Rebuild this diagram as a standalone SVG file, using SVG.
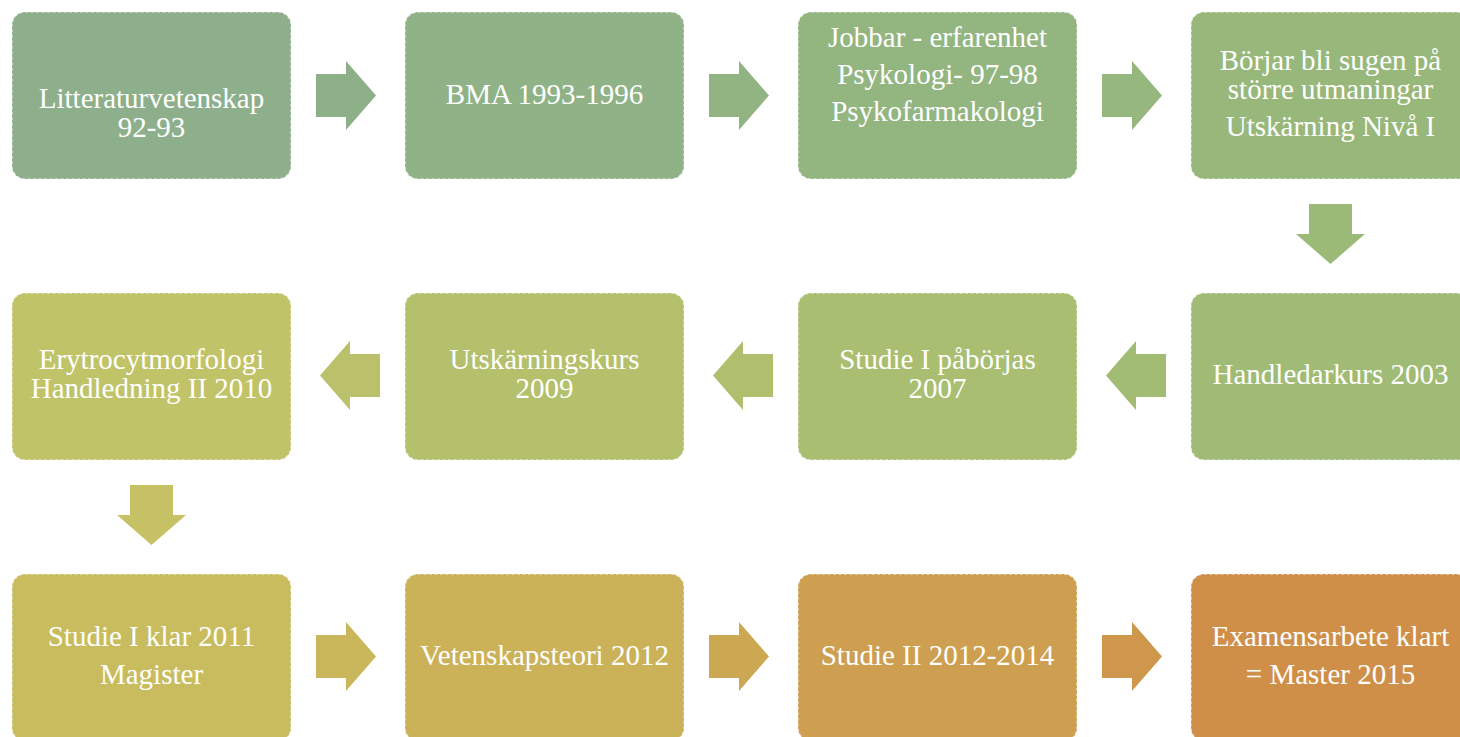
<svg xmlns="http://www.w3.org/2000/svg" width="1460" height="737" viewBox="0 0 1460 737">
<style>
.box{stroke:#ffffff;stroke-opacity:0.6;stroke-width:1.5;stroke-dasharray:3 2.5}
.t{font-family:"Liberation Serif","Times New Roman",serif;font-size:29px;fill:#ffffff;text-anchor:middle}
</style>
<defs>
<path id="ar" d="M0,-21.5 H30 V-34.5 L60,0 L30,34.5 V21.5 H0 Z"/>
</defs>
<rect width="1460" height="737" fill="#ffffff"/>
<g id="connectors">
<use href="#ar" transform="translate(316,95.5)" fill="#8EB089"/>
<use href="#ar" transform="translate(709,95.5)" fill="#92B483"/>
<use href="#ar" transform="translate(1102,95.5)" fill="#96B77D"/>
<use href="#ar" transform="translate(1330.5,204) rotate(90)" fill="#9CBA77"/>
<use href="#ar" transform="translate(1166,375.5) rotate(180)" fill="#A3BC73"/>
<use href="#ar" transform="translate(773,375.5) rotate(180)" fill="#AFBF6E"/>
<use href="#ar" transform="translate(380,375.5) rotate(180)" fill="#BBC16A"/>
<use href="#ar" transform="translate(151.5,485) rotate(90)" fill="#C5C164"/>
<use href="#ar" transform="translate(316,656.5)" fill="#CAB75C"/>
<use href="#ar" transform="translate(709,656.5)" fill="#CDA853"/>
<use href="#ar" transform="translate(1102,656.5)" fill="#CF974C"/>
</g>
<g id="n1"><rect class="box" x="12" y="12" width="279" height="167" rx="13" fill="#8DAF8C"/>
<text class="t" x="151.5" y="108">Litteraturvetenskap</text><text class="t" x="151.5" y="137">92-93</text></g>
<g id="n2"><rect class="box" x="405" y="12" width="279" height="167" rx="13" fill="#8FB286"/>
<text class="t" x="544.5" y="104">BMA 1993-1996</text></g>
<g id="n3"><rect class="box" x="798" y="12" width="279" height="167" rx="13" fill="#93B580"/>
<text class="t" x="937.5" y="47">Jobbar - erfarenhet</text><text class="t" x="937.5" y="84">Psykologi- 97-98</text><text class="t" x="937.5" y="121">Psykofarmakologi</text></g>
<g id="n4"><rect class="box" x="1191" y="12" width="279" height="167" rx="13" fill="#97B87A"/>
<text class="t" x="1330.5" y="70">Börjar bli sugen på</text><text class="t" x="1330.5" y="99">större utmaningar</text><text class="t" x="1330.5" y="136">Utskärning Nivå I</text></g>
<g id="n5"><rect class="box" x="1191" y="293" width="279" height="167" rx="13" fill="#9FBB75"/>
<text class="t" x="1330.5" y="384">Handledarkurs 2003</text></g>
<g id="n6"><rect class="box" x="798" y="293" width="279" height="167" rx="13" fill="#A9BE71"/>
<text class="t" x="937.5" y="369">Studie I påbörjas</text><text class="t" x="937.5" y="398">2007</text></g>
<g id="n7"><rect class="box" x="405" y="293" width="279" height="167" rx="13" fill="#B4C06C"/>
<text class="t" x="544.5" y="369">Utskärningskurs</text><text class="t" x="544.5" y="398">2009</text></g>
<g id="n8"><rect class="box" x="12" y="293" width="279" height="167" rx="13" fill="#C1C368"/>
<text class="t" x="151.5" y="369">Erytrocytmorfologi</text><text class="t" x="151.5" y="398">Handledning II 2010</text></g>
<g id="n9"><rect class="box" x="12" y="574" width="279" height="167" rx="13" fill="#C8BC5F"/>
<text class="t" x="151.5" y="646">Studie I klar 2011</text><text class="t" x="151.5" y="684">Magister</text></g>
<g id="n10"><rect class="box" x="405" y="574" width="279" height="167" rx="13" fill="#CBB158"/>
<text class="t" x="544.5" y="665">Vetenskapsteori 2012</text></g>
<g id="n11"><rect class="box" x="798" y="574" width="279" height="167" rx="13" fill="#CE9F50"/>
<text class="t" x="937.5" y="665">Studie II 2012-2014</text></g>
<g id="n12"><rect class="box" x="1191" y="574" width="279" height="167" rx="13" fill="#D08F49"/>
<text class="t" x="1330.5" y="646">Examensarbete klart</text><text class="t" x="1330.5" y="684">= Master 2015</text></g>
</svg>
